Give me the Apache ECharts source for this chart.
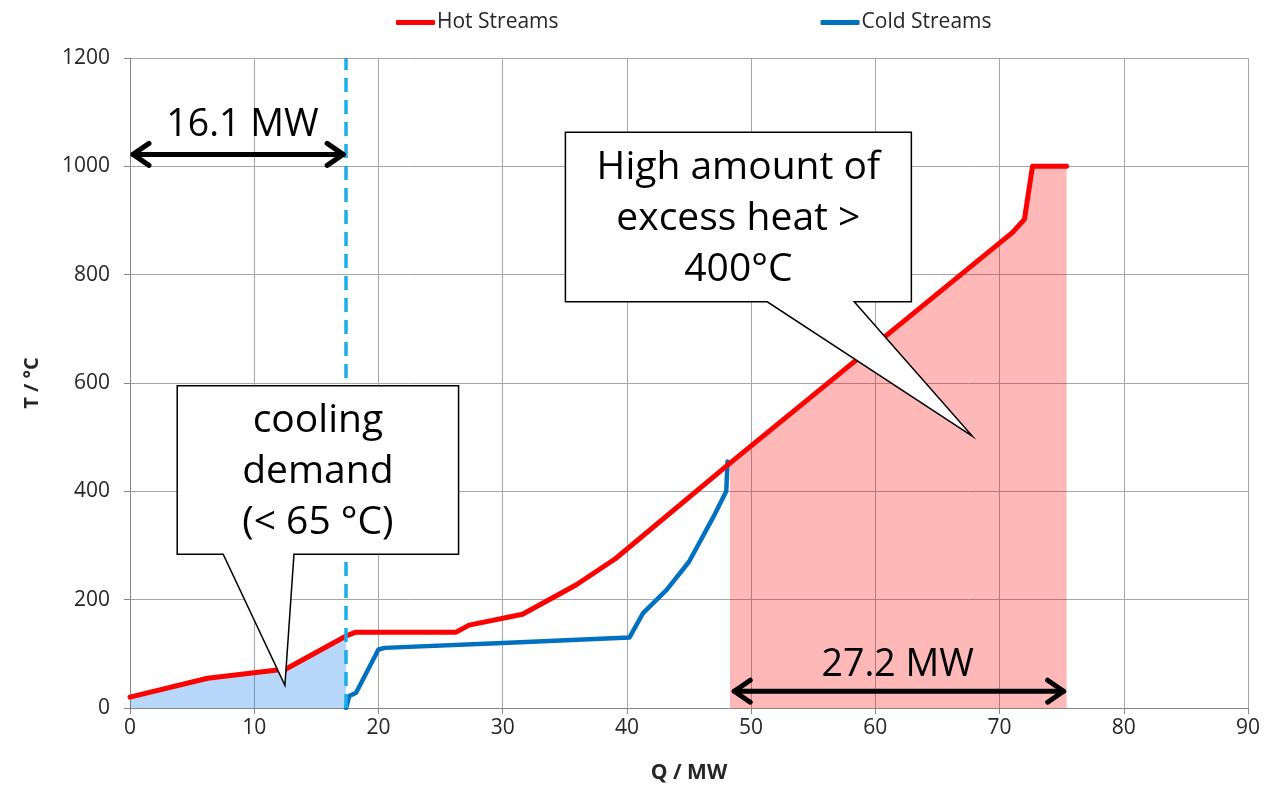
<!DOCTYPE html>
<html>
<head>
<meta charset="utf-8">
<title>Composite curves</title>
<script src="https://cdn.jsdelivr.net/npm/echarts@6/dist/echarts.min.js"></script>
<style>
  html, body { margin: 0; padding: 0; background: #ffffff; }
  #chart { width: 1281px; height: 789px; }
</style>
</head>
<body>
<div id="chart"></div>
<script>
// Hot composite curve (Q in MW, T in °C)
const hotQ = [0, 6.25, 12.55, 17.4, 18.2, 26.25, 27.3, 31.6, 35.9, 39.1, 48.3, 71.05, 72.0, 72.65, 75.4];
const hotT = [20, 55, 72, 133, 140, 140, 153, 173, 227, 276, 452, 878, 902, 1000, 1000];

// Cold composite curve
const coldQ = [17.4, 17.65, 18.2, 20.0, 20.5, 30.0, 40.2, 41.3, 43.2, 45.0, 46.9, 48.0, 48.1];
const coldT = [0, 22, 28, 108, 111, 120, 130, 175, 218, 270, 350, 400, 455];

// Pinch / cooling limit and excess heat range
const pinchQ = 17.4;
const excessStartQ = 48.3;
const excessEndQ = 75.4;

// Axis ticks
const xTicks = [0, 10, 20, 30, 40, 50, 60, 70, 80, 90];
const yTicks = [0, 200, 400, 600, 800, 1000, 1200];

// Annotation texts
const coolingLabel = '16.1 MW';
const excessLabel = '27.2 MW';
const coolingCallout = ['cooling', 'demand', '(< 65 °C)'];
const excessCallout = ['High amount of', 'excess heat >', '400°C'];

const hotData = hotQ.map((q, i) => [q, hotT[i]]);
const coldData = coldQ.map((q, i) => [q, coldT[i]]);
const coolingArea = hotData.filter(p => p[0] <= pinchQ);
const excessArea = hotData.filter(p => p[0] >= excessStartQ);

const FONT = '"Open Sans", "Noto Sans", sans-serif';

const chart = echarts.init(document.getElementById('chart'), null, { renderer: 'canvas' });

chart.setOption({
  animation: false,
  backgroundColor: '#ffffff',
  textStyle: { fontFamily: FONT },
  grid: { left: 130, right: 33, top: 58, bottom: 79, containLabel: false },
  legend: {
    data: ['Hot Streams', 'Cold Streams'],
    top: 7,
    left: 391,
    itemGap: 262,
    itemWidth: 39,
    itemHeight: 5,
    icon: 'roundRect',
    textStyle: { fontFamily: FONT, fontSize: 21, color: '#262626', padding: [0, 0, 0, -3] }
  },
  xAxis: {
    type: 'value',
    min: xTicks[0],
    max: xTicks[xTicks.length - 1],
    interval: 10,
    name: 'Q / MW',
    nameLocation: 'middle',
    nameGap: 55,
    nameTextStyle: { fontFamily: FONT, fontSize: 21, fontWeight: 'bold', color: '#262626' },
    axisLine: { lineStyle: { color: '#868686', width: 1 } },
    axisTick: { show: true, length: 6, lineStyle: { color: '#868686' } },
    axisLabel: { fontFamily: FONT, fontSize: 21, color: '#262626', margin: 10 },
    splitLine: { show: true, lineStyle: { color: '#a6a6a6', width: 1 } }
  },
  yAxis: {
    type: 'value',
    min: yTicks[0],
    max: yTicks[yTicks.length - 1],
    interval: 200,
    name: 'T / °C',
    nameLocation: 'middle',
    nameGap: 88,
    nameTextStyle: { fontFamily: FONT, fontSize: 20, fontWeight: 'bold', color: '#262626' },
    axisLine: { show: true, lineStyle: { color: '#868686', width: 1 } },
    axisTick: { show: true, length: 6, lineStyle: { color: '#868686' } },
    axisLabel: { fontFamily: FONT, fontSize: 21, color: '#262626', margin: 20, formatter: v => String(v) },
    splitLine: { show: true, lineStyle: { color: '#a6a6a6', width: 1 } }
  },
  series: [
    {
      name: 'cooling-area',
      type: 'line',
      data: coolingArea,
      symbol: 'none',
      lineStyle: { width: 0, opacity: 0 },
      areaStyle: { color: 'rgba(0,115,240,0.28)', opacity: 1 },
      silent: true,
      z: 1
    },
    {
      name: 'excess-area',
      type: 'line',
      data: excessArea,
      symbol: 'none',
      lineStyle: { width: 0, opacity: 0 },
      areaStyle: { color: 'rgba(255,0,0,0.28)', opacity: 1 },
      silent: true,
      z: 1
    },
    {
      name: 'Cold Streams',
      type: 'line',
      data: coldData,
      symbol: 'none',
      color: '#0070C0',
      lineStyle: { color: '#0070C0', width: 4.5, join: 'round', cap: 'round' },
      z: 3,
      markLine: {
        silent: true,
        symbol: 'none',
        label: { show: false },
        lineStyle: { color: '#1AADE8', width: 3.5, type: [14, 8] },
        data: [{ xAxis: pinchQ }]
      }
    },
    {
      name: 'Hot Streams',
      type: 'line',
      data: hotData,
      symbol: 'none',
      color: '#FF0000',
      lineStyle: { color: '#FF0000', width: 5, join: 'round', cap: 'round' },
      z: 4
    }
  ]
});

// Annotations placed from data coordinates
function px(q, t) { return chart.convertToPixel({ gridIndex: 0 }, [q, t]); }

function doubleArrow(q1, q2, t) {
  const a = px(q1, t), b = px(q2, t);
  const y = a[1], h = 11, w = 19;
  const style = { stroke: '#000', lineWidth: 5, fill: null, lineJoin: 'round', lineCap: 'round' };
  return [
    { type: 'line', shape: { x1: a[0] + 3, y1: y, x2: b[0] - 3, y2: y }, style: style, z: 20 },
    { type: 'polyline', shape: { points: [[a[0] + w, y - h], [a[0] + 3, y], [a[0] + w, y + h]] }, style: style, z: 20 },
    { type: 'polyline', shape: { points: [[b[0] - w, y - h], [b[0] - 3, y], [b[0] - w, y + h]] }, style: style, z: 20 }
  ];
}

function callout(box, pointer, lines) {
  const tl = px(box[0], box[1]), br = px(box[2], box[3]);
  const bl = px(pointer[0], box[3]), brp = px(pointer[1], box[3]);
  const tip = px(pointer[2], pointer[3]);
  const pts = [
    [tl[0], tl[1]], [br[0], tl[1]], [br[0], br[1]],
    [brp[0], br[1]], [tip[0], tip[1]], [bl[0], br[1]], [tl[0], br[1]]
  ];
  return [
    { type: 'polygon', shape: { points: pts }, style: { fill: '#ffffff', stroke: '#000000', lineWidth: 1.5 }, z: 30 },
    {
      type: 'text', z: 31,
      style: {
        x: (tl[0] + br[0]) / 2, y: (tl[1] + br[1]) / 2 + 2,
        text: lines.join('\n'), align: 'center', verticalAlign: 'middle',
        font: '39px ' + FONT, lineHeight: 51, fill: '#000000'
      }
    }
  ];
}

function label(q, t, text) {
  const p = px(q, t);
  return {
    type: 'text', z: 25,
    style: { x: p[0], y: p[1], text: text, align: 'center', verticalAlign: 'middle', font: '37.5px ' + FONT, fill: '#000000' }
  };
}

const g = []
  .concat(doubleArrow(0, pinchQ, 1022))
  .concat(doubleArrow(excessStartQ + 0.1, excessEndQ, 31))
  .concat([label(9.05, 1076, coolingLabel), label(61.8, 79, excessLabel)])
  .concat(callout([3.8, 595, 26.45, 284], [7.5, 13.2, 12.47, 42], coolingCallout))
  .concat(callout([35.05, 1063, 62.9, 750], [51.3, 58.3, 67.8, 502], excessCallout));

chart.setOption({ graphic: g });
</script>
</body>
</html>
